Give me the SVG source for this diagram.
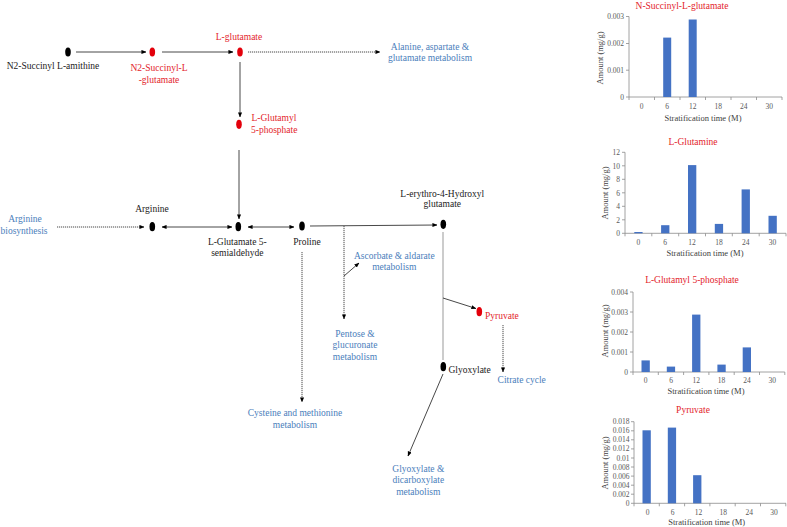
<svg xmlns="http://www.w3.org/2000/svg" width="787" height="527" viewBox="0 0 787 527" font-family="'Liberation Serif','Times New Roman',serif">
<style>
text{font-family:"Liberation Serif","Times New Roman",serif;}
.lbl{font-size:9.5px;fill:#222;}
.red{font-size:9.5px;fill:#e3242b;}
.blue{font-size:9.5px;fill:#4a7ebb;}
.ln{stroke:#333;stroke-width:0.9;fill:none;}
.gl{stroke:#999;stroke-width:1;fill:none;}
.dt{stroke:#333;stroke-width:0.9;fill:none;stroke-dasharray:1.2 0.8;}
.nb{fill:#000;}
.nr{fill:#e3000b;}
.ax{stroke:#8c8c8c;stroke-width:0.8;fill:none;}
.tk{font-size:7.5px;fill:#595959;}
.ct{font-size:9.5px;fill:#e3242b;text-anchor:middle;}
.at{font-size:8.5px;fill:#404040;text-anchor:middle;}
.bar{fill:#4472c4;}
</style>
<defs>
<marker id="ah" viewBox="0 0 6 6" refX="5.5" refY="3" markerWidth="5" markerHeight="5" orient="auto-start-reverse" markerUnits="userSpaceOnUse">
<path d="M0,0.5 L6,3 L0,5.5 Z" fill="#000"/>
</marker>
</defs>

<g id="connectors">
<line class="ln" x1="76" y1="52" x2="146" y2="52" marker-end="url(#ah)"/>
<line class="ln" x1="162" y1="52" x2="233" y2="52" marker-end="url(#ah)"/>
<line class="dt" x1="248" y1="52" x2="380" y2="52" marker-end="url(#ah)"/>
<line class="ln" x1="240" y1="62" x2="240" y2="117" marker-end="url(#ah)"/>
<line class="ln" x1="239" y1="150" x2="239" y2="219" marker-end="url(#ah)"/>
<line class="dt" x1="57" y1="227" x2="144" y2="227" marker-end="url(#ah)"/>
<line class="ln" x1="162" y1="227" x2="232" y2="227" marker-start="url(#ah)" marker-end="url(#ah)"/>
<line class="ln" x1="248" y1="227" x2="294" y2="227" marker-start="url(#ah)" marker-end="url(#ah)"/>
<line class="ln" x1="310" y1="226" x2="437" y2="225" marker-end="url(#ah)"/>
<line class="dt" x1="344" y1="226" x2="344" y2="319" marker-end="url(#ah)"/>
<line class="ln" x1="344" y1="276" x2="359" y2="263" marker-end="url(#ah)"/>
<line class="gl" x1="443" y1="232" x2="443" y2="360"/>
<line class="ln" x1="443" y1="298" x2="476" y2="308.5" marker-end="url(#ah)"/>
<line class="dt" x1="503" y1="325" x2="503" y2="372" marker-end="url(#ah)"/>
<line class="dt" x1="302" y1="252" x2="302" y2="402" marker-end="url(#ah)"/>
<line class="ln" x1="443" y1="374" x2="408" y2="456" marker-end="url(#ah)"/>
</g>

<g id="n-amithine"><ellipse class="nb" cx="68" cy="52" rx="2.8" ry="4.6"/><text class="lbl" x="53" y="69" text-anchor="middle">N2-Succinyl L-amithine</text></g>
<g id="n-succinylglu"><ellipse class="nr" cx="152.3" cy="52" rx="2.8" ry="4.6"/><text class="red" x="159" y="71" text-anchor="middle">N2-Succinyl-L</text><text class="red" x="159" y="82.5" text-anchor="middle">-glutamate</text></g>
<g id="n-glutamate"><ellipse class="nr" cx="240" cy="52" rx="2.8" ry="4.6"/><text class="red" x="239" y="40" text-anchor="middle">L-glutamate</text></g>
<g id="n-ala"><text class="blue" x="430" y="50" text-anchor="middle">Alanine, aspartate &amp;</text><text class="blue" x="430" y="61" text-anchor="middle">glutamate metabolism</text></g>
<g id="n-glutamyl"><ellipse class="nr" cx="239" cy="124.3" rx="2.8" ry="4.6"/><text class="red" x="251.5" y="121.3">L-Glutamyl</text><text class="red" x="251" y="133.3">5-phosphate</text></g>
<g id="n-argbio"><text class="blue" x="25" y="222" text-anchor="middle">Arginine</text><text class="blue" x="24" y="233.5" text-anchor="middle">biosynthesis</text></g>
<g id="n-arginine"><ellipse class="nb" cx="152.3" cy="226.7" rx="2.8" ry="4.6"/><text class="lbl" x="152" y="212.3" text-anchor="middle">Arginine</text></g>
<g id="n-g5sa"><ellipse class="nb" cx="238.3" cy="226.7" rx="2.8" ry="4.6"/><text class="lbl" x="237.3" y="245" text-anchor="middle">L-Glutamate 5-</text><text class="lbl" x="237.3" y="255.5" text-anchor="middle">semialdehyde</text></g>
<g id="n-proline"><ellipse class="nb" cx="302" cy="226" rx="2.8" ry="4.6"/><text class="lbl" x="307" y="245" text-anchor="middle">Proline</text></g>
<g id="n-erythro"><ellipse class="nb" cx="443.3" cy="224.3" rx="2.8" ry="4.6"/><text class="lbl" x="442.3" y="196.5" text-anchor="middle">L-erythro-4-Hydroxyl</text><text class="lbl" x="442.3" y="206.5" text-anchor="middle">glutamate</text></g>
<g id="n-ascorbate"><text class="blue" x="394.3" y="259" text-anchor="middle">Ascorbate &amp; aldarate</text><text class="blue" x="394.3" y="270" text-anchor="middle">metabolism</text></g>
<g id="n-pentose"><text class="blue" x="355" y="336.5" text-anchor="middle">Pentose &amp;</text><text class="blue" x="355" y="348.3" text-anchor="middle">glucuronate</text><text class="blue" x="355" y="360" text-anchor="middle">metabolism</text></g>
<g id="n-pyruvate"><ellipse class="nr" cx="479.3" cy="311.7" rx="2.8" ry="4.6"/><text class="red" x="485" y="319.3">Pyruvate</text></g>
<g id="n-citrate"><text class="blue" x="521.7" y="383.3" text-anchor="middle">Citrate cycle</text></g>
<g id="n-glyoxylate"><ellipse class="nb" cx="443.3" cy="366.7" rx="2.8" ry="4.6"/><text class="lbl" x="448.5" y="373.3">Glyoxylate</text></g>
<g id="n-cysteine"><text class="blue" x="295" y="416" text-anchor="middle">Cysteine and methionine</text><text class="blue" x="295" y="427.6" text-anchor="middle">metabolism</text></g>
<g id="n-glyoxmet"><text class="blue" x="418.3" y="471.6" text-anchor="middle">Glyoxylate &amp;</text><text class="blue" x="418.3" y="483.3" text-anchor="middle">dicarboxylate</text><text class="blue" x="418.3" y="495" text-anchor="middle">metabolism</text></g>

<!-- Chart 1 -->
<g id="chart-succinyl">
<text class="ct" x="682" y="9">N-Succinyl-L-glutamate</text>
<path class="ax" d="M629,16.5V97H782 M626,16.5H629 M626,43.5H629 M626,70.2H629 M626,97H629 M629,97v3 M654.5,97v3 M680,97v3 M705.5,97v3 M731,97v3 M756.5,97v3 M782,97v3"/>
<g class="tk" text-anchor="end"><text x="624" y="19">0.003</text><text x="624" y="46">0.002</text><text x="624" y="72.7">0.001</text><text x="624" y="99.5">0</text></g>
<g class="tk" text-anchor="middle"><text x="641.7" y="109">0</text><text x="667.2" y="109">6</text><text x="692.7" y="109">12</text><text x="718.2" y="109">18</text><text x="743.7" y="109">24</text><text x="769.2" y="109">30</text></g>
<rect class="bar" x="663.2" y="37.6" width="8" height="59.4"/>
<rect class="bar" x="688.7" y="19.5" width="8" height="77.5"/>
<text class="at" x="703" y="120.5">Stratification time (M)</text>
<text class="at" transform="translate(603,58) rotate(-90)">Amount  (mg/g)</text>
</g>

<!-- Chart 2 -->
<g id="chart-glutamine">
<text class="ct" x="693" y="145">L-Glutamine</text>
<path class="ax" d="M625,152.3V233.3H786 M622,152.3H625 M622,165.8H625 M622,179.3H625 M622,192.8H625 M622,206.3H625 M622,219.8H625 M622,233.3H625 M625,233.3v3 M651.8,233.3v3 M678.7,233.3v3 M705.5,233.3v3 M732.3,233.3v3 M759.2,233.3v3 M786,233.3v3"/>
<g class="tk" text-anchor="end"><text x="620" y="155">12</text><text x="620" y="168.5">10</text><text x="620" y="182">8</text><text x="620" y="195.5">6</text><text x="620" y="209">4</text><text x="620" y="222.5">2</text><text x="620" y="236">0</text></g>
<g class="tk" text-anchor="middle"><text x="638.4" y="244.5">0</text><text x="665.2" y="244.5">6</text><text x="692.1" y="244.5">12</text><text x="718.9" y="244.5">18</text><text x="745.7" y="244.5">24</text><text x="772.6" y="244.5">30</text></g>
<rect class="bar" x="634.3" y="232" width="8.3" height="1.3"/>
<rect class="bar" x="661.1" y="225.2" width="8.3" height="8.1"/>
<rect class="bar" x="688" y="165.1" width="8.3" height="68.2"/>
<rect class="bar" x="714.8" y="223.9" width="8.3" height="9.4"/>
<rect class="bar" x="741.6" y="189.4" width="8.3" height="43.9"/>
<rect class="bar" x="768.5" y="215.8" width="8.3" height="17.5"/>
<text class="at" x="705" y="255.5">Stratification time (M)</text>
<text class="at" transform="translate(608,193) rotate(-90)">Amount  (mg/g)</text>
</g>

<!-- Chart 3 -->
<g id="chart-glutamyl">
<text class="ct" x="692" y="282.5">L-Glutamyl 5-phosphate</text>
<path class="ax" d="M633,292V372H784.8 M630,292H633 M630,312H633 M630,332H633 M630,352H633 M630,372H633 M633,372v3 M658.3,372v3 M683.6,372v3 M708.9,372v3 M734.2,372v3 M759.5,372v3 M784.8,372v3"/>
<g class="tk" text-anchor="end"><text x="628" y="294.5">0.004</text><text x="628" y="314.5">0.003</text><text x="628" y="334.5">0.002</text><text x="628" y="354.5">0.001</text><text x="628" y="374.5">0</text></g>
<g class="tk" text-anchor="middle"><text x="645.6" y="382.5">0</text><text x="671" y="382.5">6</text><text x="696.3" y="382.5">12</text><text x="721.6" y="382.5">18</text><text x="746.9" y="382.5">24</text><text x="772.2" y="382.5">30</text></g>
<rect class="bar" x="641.5" y="360.4" width="8.3" height="11.6"/>
<rect class="bar" x="666.8" y="366.6" width="8.3" height="5.4"/>
<rect class="bar" x="692.1" y="314.6" width="8.3" height="57.4"/>
<rect class="bar" x="717.4" y="364.6" width="8.3" height="7.4"/>
<rect class="bar" x="742.7" y="347.4" width="8.3" height="24.6"/>
<text class="at" x="706" y="393.5">Stratification time (M)</text>
<text class="at" transform="translate(608,331) rotate(-90)">Amount  (mg/g)</text>
</g>

<!-- Chart 4 -->
<g id="chart-pyruvate">
<text class="ct" x="693" y="413">Pyruvate</text>
<path class="ax" d="M634,421.7V503.3H786 M631,421.7H634 M631,430.8H634 M631,439.8H634 M631,448.9H634 M631,458H634 M631,467H634 M631,476.1H634 M631,485.2H634 M631,494.2H634 M631,503.3H634 M634,503.3v3 M659.3,503.3v3 M684.6,503.3v3 M709.9,503.3v3 M735.2,503.3v3 M760.5,503.3v3 M785.8,503.3v3"/>
<g class="tk" text-anchor="end"><text x="629.5" y="424.2">0.018</text><text x="629.5" y="433.3">0.016</text><text x="629.5" y="442.3">0.014</text><text x="629.5" y="451.4">0.012</text><text x="629.5" y="460.5">0.01</text><text x="629.5" y="469.5">0.008</text><text x="629.5" y="478.6">0.006</text><text x="629.5" y="487.7">0.004</text><text x="629.5" y="496.7">0.002</text><text x="629.5" y="505.8">0</text></g>
<g class="tk" text-anchor="middle"><text x="647.7" y="514.5">0</text><text x="672.7" y="514.5">6</text><text x="698.5" y="514.5">12</text><text x="723.3" y="514.5">18</text><text x="749.3" y="514.5">24</text><text x="774" y="514.5">30</text></g>
<rect class="bar" x="642.5" y="430.3" width="8.3" height="73"/>
<rect class="bar" x="667.8" y="427.6" width="8.3" height="75.7"/>
<rect class="bar" x="693.1" y="475.2" width="8.3" height="28.1"/>
<text class="at" x="706.7" y="524.5">Stratification time (M)</text>
<text class="at" transform="translate(608,463) rotate(-90)">Amount  (mg/g)</text>
</g>
</svg>
